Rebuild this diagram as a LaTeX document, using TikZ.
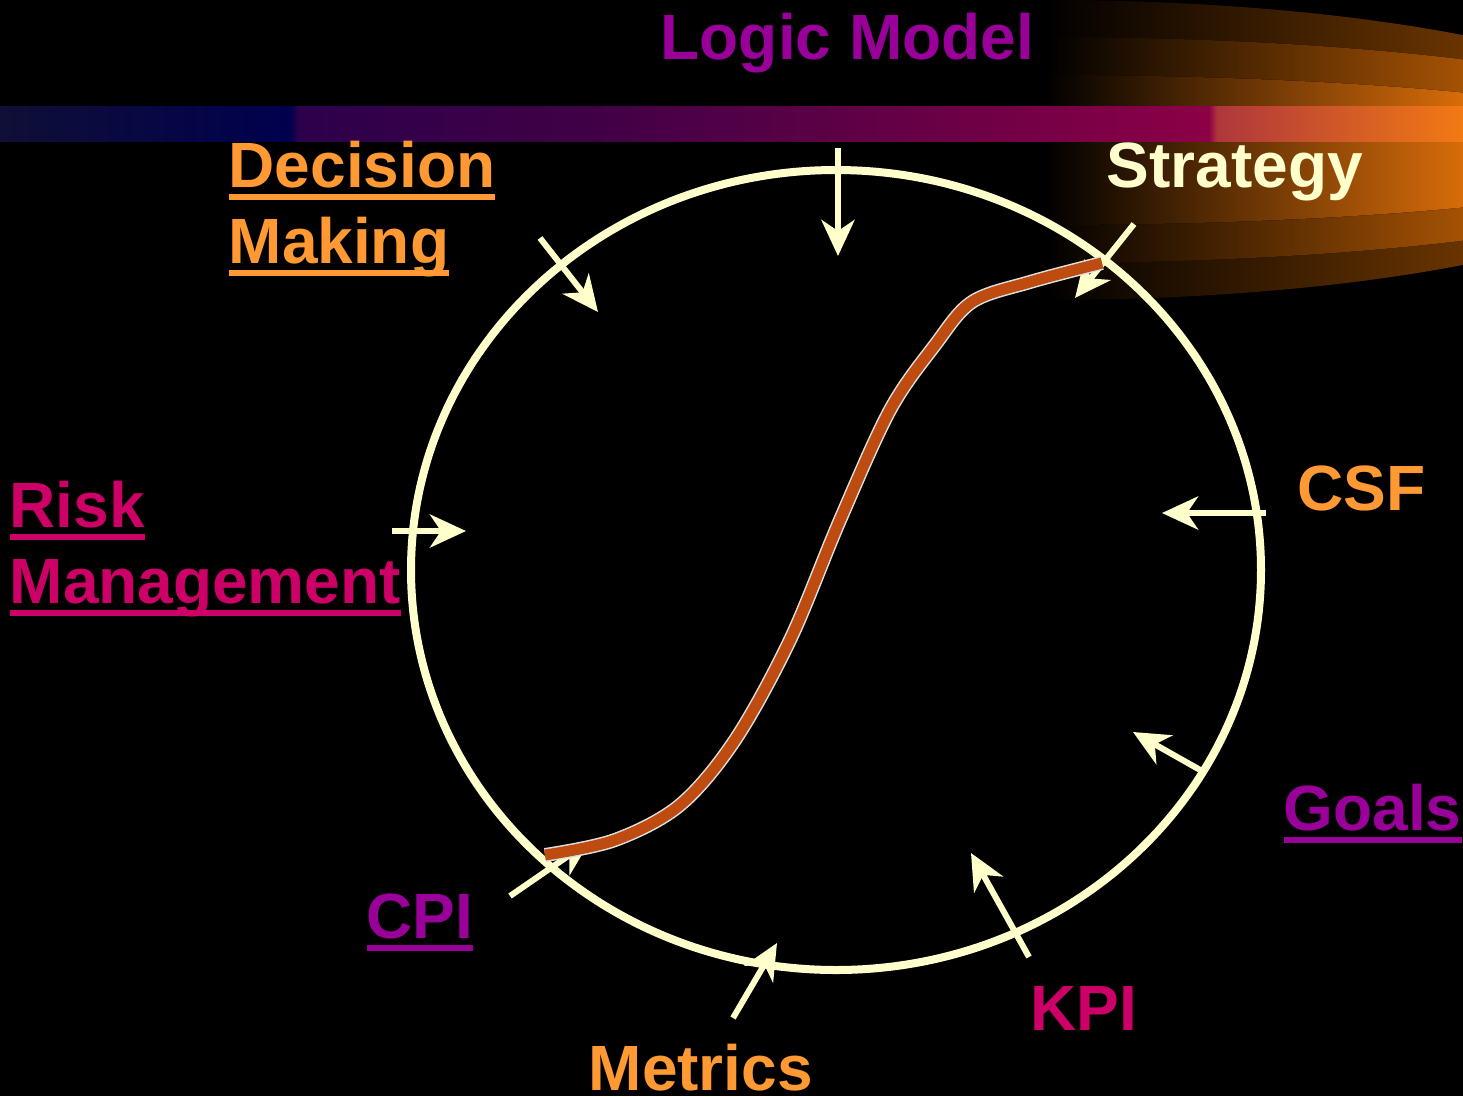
\documentclass[tikz,border=0pt]{standalone}
\usepackage{fontspec}
\setmainfont{Liberation Sans}
\usetikzlibrary{arrows.meta}
\definecolor{cream}{HTML}{FFFFCC}
\definecolor{purple}{HTML}{990099}
\definecolor{magenta}{HTML}{CC0066}
\definecolor{orange}{HTML}{FF9933}
\definecolor{rust}{HTML}{BE4B10}
\definecolor{glowA}{RGB}{105,52,0}
\definecolor{glowB}{RGB}{165,82,4}
\definecolor{glowC}{RGB}{215,108,10}
\definecolor{bar0}{RGB}{15,15,55}
\definecolor{bar1}{RGB}{0,0,78}
\definecolor{bar2}{RGB}{45,0,75}
\definecolor{bar3}{RGB}{65,0,70}
\definecolor{bar4}{RGB}{95,0,70}
\definecolor{bar5}{RGB}{140,0,70}
\definecolor{bar6}{RGB}{175,55,60}
\definecolor{bar7}{RGB}{242,122,20}
\pgfdeclarehorizontalshading{barshade}{100bp}{color(0bp)=(bar0); color(25bp)=(bar0);
  color(34.9bp)=(bar1); color(35.2bp)=(bar2); color(45.5bp)=(bar3); color(54bp)=(bar4);
  color(66.3bp)=(bar5); color(66.6bp)=(bar6); color(75bp)=(bar7); color(100bp)=(bar7)}
\newcommand\ulword[1]{\setbox0\hbox{#1}\rlap{\rule[-0.2em]{\wd0}{0.095em}}\box0}

\begin{document}
\begin{tikzpicture}[x=0.01cm,y=-0.01cm,
lbl/.style={font=\fontsize{18.2}{21.6}\selectfont\bfseries,inner sep=0pt,anchor=base west,align=left},
ring/.style={draw=cream,line width=0.08cm},
inarrow/.style={draw=cream,line width=0.06cm,-{Stealth[length=0.36cm,width=0.33cm,inset=0.11cm]}},
halo/.style={draw=white!75!gray,line width=0.14cm},
scurve/.style={draw=rust,line width=0.11cm}]
\useasboundingbox (0,0) rectangle (1463,1096);
\fill[black] (0,0) rectangle (1463,1096);

% glow behind strategy
\foreach \rx/\ry/\col in {650/150/glowA,700/113/glowB,650/75/glowC}{
  \begin{scope}
  \clip (1045,150) ellipse [x radius=\rx,y radius=\ry];
  \fill[left color=black,right color=\col] (1045,0) rectangle (1463,300);
  \end{scope}
}
\shade[shading=barshade] (0,106) rectangle (1463,141);

\node[lbl,text=purple] (title) at (660,59) {Logic Model};

% cycle
\coordinate (c) at (836,570);
\draw[ring] (c) ellipse [x radius=425,y radius=400];

% arrows into the cycle
\foreach \n/\sx/\sy/\ex/\ey in {top/838/148/838/256,dm/540/238/598/312,str/1134/224/1075/298,
  risk/392/531/466/531,csf/1266/513/1162/513,goals/1202/771/1133/732,kpi/1029/957/971/853,
  met/733/1018/777/943,cpi/510/896/590/841}{
  \coordinate (\n-s) at (\sx,\sy);
  \coordinate (\n-e) at (\ex,\ey);
  \draw[inarrow] (\n-s) -- (\n-e);
}

% s-curve
\draw[halo] plot[smooth,tension=0.55] coordinates {(545,855) (615,840) (680,805) (735,740) (790,640)
  (840,520) (890,410) (935,345) (972,302) (1030,282) (1102,263)};
\draw[scurve] plot[smooth,tension=0.55] coordinates {(545,855) (615,840) (680,805) (735,740) (790,640)
  (840,520) (890,410) (935,345) (972,302) (1030,282) (1102,263)};

% labels
\node[lbl,text=orange] (decision) at (228,263) {\ulword{Decision}\\\ulword{Making}};
\node[lbl,text=cream] (strategy) at (1106,187) {Strategy};
\node[lbl,text=magenta] (risk) at (9,603) {\ulword{Risk}\\\ulword{Management}};
\node[lbl,text=orange] (csf) at (1297,510) {CSF};
\node[lbl,text=purple] (goals) at (1283,830) {\ulword{Goals}};
\node[lbl,text=magenta] (kpi) at (1030,1030) {KPI};
\node[lbl,text=orange] (metrics) at (588,1090) {Metrics};
\node[lbl,text=purple] (cpi) at (366,938) {\ulword{CPI}};
\end{tikzpicture}
\end{document}
